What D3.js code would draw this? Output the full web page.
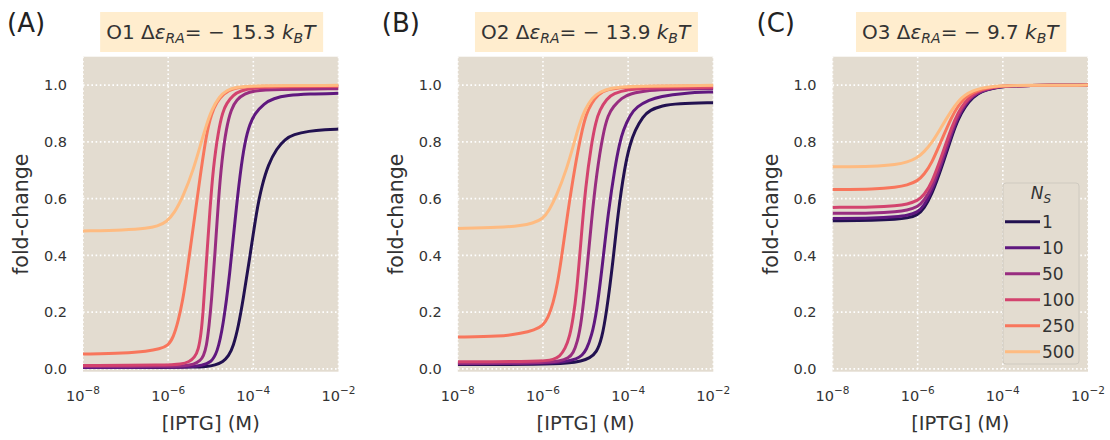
<!DOCTYPE html>
<html>
<head>
<meta charset="utf-8">
<script src="https://cdn.jsdelivr.net/npm/d3@7"></script>
<style>
  html, body { margin: 0; padding: 0; background: #ffffff; }
  svg { display: block; font-family: "DejaVu Sans", sans-serif; }
</style>
</head>
<body>
<svg id="chart" width="1110" height="440"></svg>
<script>
// ---------------- data ----------------
const panelLabels = ["(A)", "(B)", "(C)"];
const operators = ["O1", "O2", "O3"];
const bindingEnergies = ["15.3", "13.9", "9.7"];
const repressorCopies = [1, 10, 50, 100, 250, 500];
const seriesColors = ["#221150", "#5f187f", "#982d80", "#d3436e", "#f8765c", "#febb81"];
const xTicks = [1e-8, 1e-6, 1e-4, 1e-2];
const xTickExponents = ["−8", "−6", "−4", "−2"];
const yTicks = [0.0, 0.2, 0.4, 0.6, 0.8, 1.0];
const yTickLabels = ["0.0", "0.2", "0.4", "0.6", "0.8", "1.0"];

// each curve: [log10 [IPTG] (M), fold-change], one curve per repressor copy number
const o1Curves = [
  [[-8,.005],[-6,.005],[-5.4,.006],[-5.1,.008],[-4.9,.013],[-4.71,.025],[-4.58,.045],[-4.47,.079],[-4.35,.15],[-4.24,.243],[-4.08,.395],[-3.92,.56],[-3.8,.645],[-3.65,.72],[-3.45,.777],[-3.25,.81],[-3.06,.826],[-2.7,.838],[-2.3,.843],[-2,.845]],
  [[-8,.005],[-6,.005],[-5.5,.007],[-5.2,.012],[-5.0,.022],[-4.85,.055],[-4.71,.149],[-4.55,.337],[-4.43,.525],[-4.31,.689],[-4.2,.80],[-4.08,.865],[-3.96,.90],[-3.75,.935],[-3.53,.953],[-3.2,.964],[-2.7,.969],[-2,.971]],
  [[-8,.008],[-6,.009],[-5.6,.011],[-5.4,.015],[-5.25,.028],[-5.17,.045],[-5.10,.079],[-5.04,.15],[-4.98,.243],[-4.90,.408],[-4.82,.595],[-4.74,.736],[-4.63,.853],[-4.52,.915],[-4.39,.95],[-4.2,.97],[-4.0,.98],[-3.5,.985],[-2,.987]],
  [[-8,.012],[-6,.013],[-5.7,.016],[-5.5,.025],[-5.38,.04],[-5.29,.067],[-5.23,.12],[-5.18,.197],[-5.10,.384],[-5.02,.56],[-4.94,.712],[-4.82,.84],[-4.72,.905],[-4.63,.936],[-4.47,.965],[-4.31,.98],[-4,.99],[-3.5,.993],[-2,.995]],
  [[-8,.052],[-7,.055],[-6.5,.062],[-6.2,.07],[-6,.082],[-5.88,.11],[-5.76,.17],[-5.66,.24],[-5.57,.325],[-5.41,.50],[-5.25,.677],[-5.10,.83],[-4.98,.9],[-4.86,.94],[-4.7,.97],[-4.48,.99],[-4,.997],[-2,.998]],
  [[-8,.486],[-7,.489],[-6.5,.495],[-6.25,.503],[-6.04,.517],[-5.85,.55],[-5.65,.607],[-5.41,.70],[-5.21,.806],[-5.1,.86],[-4.98,.912],[-4.8,.96],[-4.63,.982],[-4.4,.993],[-4,.998],[-2,.999]]
];
const o2Curves = [
  [[-8,.015],[-6,.016],[-5.4,.02],[-5.1,.027],[-4.9,.038],[-4.74,.058],[-4.62,.105],[-4.51,.196],[-4.35,.384],[-4.24,.548],[-4.08,.712],[-3.96,.79],[-3.84,.84],[-3.65,.89],[-3.49,.912],[-3.2,.928],[-2.86,.935],[-2,.938]],
  [[-8,.018],[-6,.019],[-5.5,.024],[-5.2,.035],[-5.08,.048],[-4.98,.067],[-4.86,.115],[-4.74,.196],[-4.59,.384],[-4.47,.548],[-4.31,.712],[-4.2,.795],[-4.12,.84],[-3.95,.895],[-3.80,.924],[-3.5,.948],[-3.25,.96],[-2.7,.972],[-2,.976]],
  [[-8,.02],[-6,.021],[-5.6,.027],[-5.4,.038],[-5.29,.055],[-5.19,.095],[-5.10,.161],[-4.98,.325],[-4.86,.525],[-4.74,.689],[-4.59,.83],[-4.47,.895],[-4.35,.924],[-4.15,.955],[-3.96,.97],[-3.5,.982],[-3,.986],[-2,.988]],
  [[-8,.025],[-6,.026],[-5.75,.033],[-5.61,.043],[-5.48,.07],[-5.37,.114],[-5.29,.18],[-5.21,.266],[-5.10,.466],[-5.0,.642],[-4.86,.795],[-4.76,.87],[-4.67,.912],[-4.5,.952],[-4.35,.97],[-4,.985],[-3.5,.99],[-2,.992]],
  [[-8,.112],[-7,.114],[-6.5,.125],[-6.2,.137],[-6,.152],[-5.88,.18],[-5.76,.231],[-5.66,.3],[-5.57,.384],[-5.41,.56],[-5.25,.712],[-5.10,.83],[-4.98,.9],[-4.86,.936],[-4.7,.968],[-4.51,.985],[-4,.996],[-2,.998]],
  [[-8,.495],[-7,.498],[-6.5,.505],[-6.25,.513],[-6,.528],[-5.85,.56],[-5.69,.607],[-5.45,.70],[-5.25,.806],[-5.14,.865],[-5.02,.912],[-4.85,.955],[-4.67,.976],[-4.4,.99],[-4,.997],[-2,.999]]
];
const o3Curves = [
  [[-8,.522],[-7,.523],[-6.5,.527],[-6.25,.531],[-6,.541],[-5.85,.565],[-5.67,.613],[-5.44,.707],[-5.20,.82],[-5.05,.88],[-4.89,.924],[-4.7,.958],[-4.50,.978],[-4.2,.99],[-4,.995],[-3.5,.999],[-2,1.0]],
  [[-8,.530],[-7,.531],[-6.5,.536],[-6.25,.54],[-6,.551],[-5.85,.575],[-5.67,.624],[-5.44,.718],[-5.20,.83],[-5.05,.887],[-4.89,.93],[-4.7,.961],[-4.50,.98],[-4.2,.991],[-4,.995],[-3.5,.999],[-2,1.0]],
  [[-8,.548],[-7,.549],[-6.5,.554],[-6.25,.559],[-6,.57],[-5.85,.593],[-5.67,.636],[-5.44,.73],[-5.20,.84],[-5.05,.893],[-4.89,.935],[-4.7,.964],[-4.50,.981],[-4.2,.992],[-4,.996],[-3.5,.999],[-2,1.0]],
  [[-8,.569],[-7,.57],[-6.5,.575],[-6.25,.58],[-6,.592],[-5.85,.613],[-5.67,.654],[-5.44,.748],[-5.20,.853],[-5.05,.903],[-4.89,.941],[-4.7,.968],[-4.50,.984],[-4.2,.993],[-4,.997],[-3.5,.999],[-2,1.0]],
  [[-8,.632],[-7,.633],[-6.5,.64],[-6.25,.647],[-6,.662],[-5.85,.685],[-5.67,.724],[-5.44,.806],[-5.20,.888],[-5.05,.927],[-4.89,.956],[-4.7,.975],[-4.50,.986],[-4.2,.994],[-4,.997],[-3.5,.999],[-2,1.0]],
  [[-8,.712],[-7,.713],[-6.5,.72],[-6.25,.728],[-6,.744],[-5.85,.765],[-5.67,.795],[-5.44,.853],[-5.20,.912],[-5.05,.943],[-4.89,.965],[-4.7,.98],[-4.50,.99],[-4.2,.996],[-4,.998],[-3.5,.999],[-2,1.0]]
];
const panelCurves = [o1Curves, o2Curves, o3Curves];

// ---------------- layout ----------------
const svg = d3.select("#chart");
const panelLeft = [83, 457.8, 832.5];
const plotW = 255.5;
const plotTop = 56.7, plotBottom = 371.7;
const bg = "#e3dcd0";
const textColor = "#333333";
const gridDash = "1.6,2.6";

panelCurves.forEach((curves, p) => {
  const x0 = panelLeft[p];
  const x = d3.scaleLog().domain([1e-8, 1e-2]).range([x0, x0 + plotW]);
  const y = d3.scaleLinear().domain([-0.01, 1.1]).range([plotBottom, plotTop]);
  const g = svg.append("g");

  // background
  g.append("rect").attr("x", x0).attr("y", plotTop)
    .attr("width", plotW).attr("height", plotBottom - plotTop).attr("fill", bg);

  // grid
  g.append("g").selectAll("line").data(xTicks).join("line")
    .attr("x1", d => x(d)).attr("x2", d => x(d))
    .attr("y1", plotTop).attr("y2", plotBottom)
    .attr("stroke", "#ffffff").attr("stroke-width", 1.6).attr("stroke-dasharray", gridDash);
  g.append("g").selectAll("line").data(yTicks).join("line")
    .attr("x1", x0).attr("x2", x0 + plotW)
    .attr("y1", d => y(d)).attr("y2", d => y(d))
    .attr("stroke", "#ffffff").attr("stroke-width", 1.6).attr("stroke-dasharray", gridDash);

  // clip
  const clipId = "clip" + p;
  svg.append("clipPath").attr("id", clipId).append("rect")
    .attr("x", x0).attr("y", plotTop).attr("width", plotW).attr("height", plotBottom - plotTop);

  const line = d3.line()
    .x(d => x(Math.pow(10, d[0])))
    .y(d => y(d[1]))
    .curve(d3.curveBasis);

  g.append("g").attr("clip-path", `url(#${clipId})`)
    .selectAll("path").data(curves).join("path")
    .attr("d", d => line(d))
    .attr("fill", "none")
    .attr("stroke", (d, i) => seriesColors[i])
    .attr("stroke-width", 3);

  // y tick labels
  g.append("g").selectAll("text").data(yTicks).join("text")
    .attr("x", x0 - 16).attr("y", d => y(d)).attr("dy", "0.36em")
    .attr("text-anchor", "end").attr("font-size", 14.5).attr("fill", textColor)
    .text((d, i) => yTickLabels[i]);

  // x tick labels
  const xt = g.append("g").selectAll("text").data(xTicks).join("text")
    .attr("x", d => x(d)).attr("y", 401)
    .attr("text-anchor", "middle").attr("fill", textColor);
  xt.append("tspan").attr("font-size", 14.5).text("10");
  xt.append("tspan").attr("font-size", 10.5).attr("dy", -7).text((d, i) => xTickExponents[i]);

  // axis labels
  g.append("text").attr("x", x0 + plotW / 2).attr("y", 430)
    .attr("text-anchor", "middle").attr("font-size", 19.5).attr("fill", textColor)
    .text("[IPTG] (M)");
  g.append("text")
    .attr("transform", `translate(${x0 - 55},${(plotTop + plotBottom) / 2}) rotate(-90)`)
    .attr("text-anchor", "middle").attr("font-size", 20.5).attr("fill", textColor)
    .text("fold-change");

  // panel label
  g.append("text").attr("x", x0 - 76).attr("y", 32)
    .attr("font-size", 26).attr("fill", "#222222").text(panelLabels[p]);

  // title box
  const tb = g.append("g");
  const t = tb.append("text").attr("x", x0 + plotW / 2).attr("y", 38.5)
    .attr("text-anchor", "middle").attr("font-size", 20).attr("fill", textColor);
  t.append("tspan").text(operators[p] + " Δ");
  t.append("tspan").attr("font-style", "italic").text("ε");
  t.append("tspan").attr("font-style", "italic").attr("font-size", 14).attr("dy", 4).text("RA");
  t.append("tspan").attr("dy", -4).text("= − " + bindingEnergies[p] + " ");
  t.append("tspan").attr("font-style", "italic").text("k");
  t.append("tspan").attr("font-style", "italic").attr("font-size", 14).attr("dy", 4).text("B");
  t.append("tspan").attr("font-style", "italic").attr("dy", -4).text("T");
  const bb = t.node().getBBox();
  tb.insert("rect", "text")
    .attr("x", bb.x - 6).attr("y", 12).attr("width", bb.width + 12).attr("height", 40)
    .attr("fill", "#ffedce");

  // legend in panel C
  if (p === 2) {
    const lg = g.append("g");
    lg.append("rect").attr("x", 1003).attr("y", 183).attr("width", 76).attr("height", 181)
      .attr("rx", 3).attr("fill", bg).attr("stroke", "#cfcac0").attr("stroke-width", 1);
    const lt = lg.append("text").attr("x", 1041).attr("y", 199)
      .attr("text-anchor", "middle").attr("font-size", 17).attr("fill", textColor);
    lt.append("tspan").attr("font-style", "italic").text("N");
    lt.append("tspan").attr("font-style", "italic").attr("font-size", 12).attr("dy", 4).text("S");
    const items = lg.selectAll("g").data(repressorCopies).join("g")
      .attr("transform", (d, i) => `translate(0,${221.7 + i * 26})`);
    items.append("line").attr("x1", 1005).attr("x2", 1040).attr("y1", 0).attr("y2", 0)
      .attr("stroke", (d, i) => seriesColors[i]).attr("stroke-width", 3);
    items.append("text").attr("x", 1042).attr("y", 0).attr("dy", "0.36em")
      .attr("font-size", 17).attr("fill", textColor).text(d => d);
  }
});
</script>
</body>
</html>
